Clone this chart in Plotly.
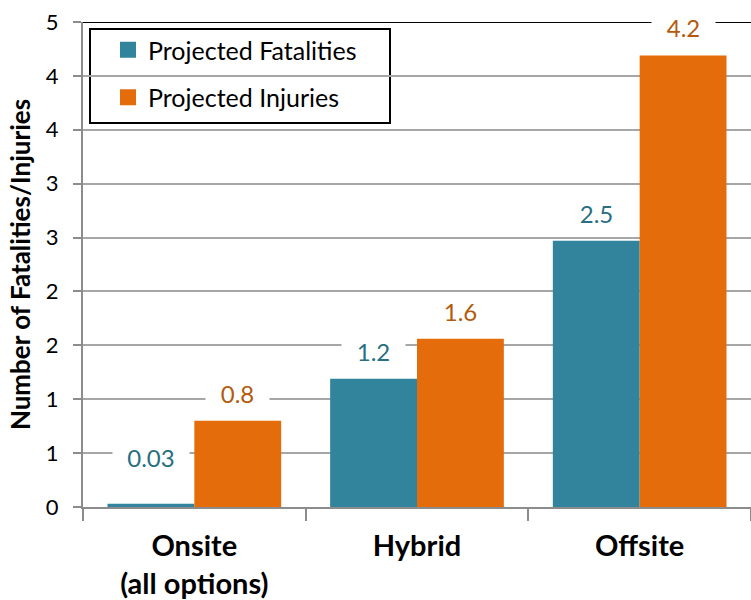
import plotly.graph_objects as go

categories = ["Onsite<br>(all options)", "Hybrid", "Offsite"]
fatalities = [0.03, 1.19, 2.47]
injuries = [0.80, 1.56, 4.19]
fatality_labels = ["0.03", "1.2", "2.5"]
injury_labels = ["0.8", "1.6", "4.2"]
ytick_vals = [0, 0.5, 1, 1.5, 2, 2.5, 3, 3.5, 4, 4.5]
ytick_text = ["0", "1", "1", "2", "2", "3", "3", "4", "4", "5"]

TEAL = "#31849B"
ORANGE = "#E46C0A"
TEAL_TXT = "#276F81"
ORANGE_TXT = "#B35A0E"
FONT = "Lato, Open Sans, sans-serif"

fig = go.Figure()
fig.add_trace(go.Bar(x=categories, y=fatalities, name="Projected Fatalities",
                     marker=dict(color=TEAL, line=dict(width=0)), showlegend=False))
fig.add_trace(go.Bar(x=categories, y=injuries, name="Projected Injuries",
                     marker=dict(color=ORANGE, line=dict(width=0)), showlegend=False))
# legend entries (square swatches)
fig.add_trace(go.Scatter(x=[None], y=[None], mode="markers", name="Projected Fatalities",
                         marker=dict(symbol="square", size=16, color=TEAL), legendgroup="a"))
fig.add_trace(go.Scatter(x=[None], y=[None], mode="markers", name="Projected Injuries",
                         marker=dict(symbol="square", size=16, color=ORANGE), legendgroup="b"))

ann = []
for i, c in enumerate(categories):
    ann.append(dict(x=c, y=fatalities[i], xref="x", yref="y", text=fatality_labels[i],
                    showarrow=False, xshift=-43.5, yshift=30 if fatalities[i] < 0.1 else 11,
                    yanchor="bottom", bgcolor="white", width=len(fatality_labels[i]) * 13 + 22,
                    font=dict(size=24, color=TEAL_TXT, family=FONT)))
    ann.append(dict(x=c, y=injuries[i], xref="x", yref="y", text=injury_labels[i],
                    showarrow=False, xshift=43.5, yshift=11, yanchor="bottom", bgcolor="white",
                    width=len(injury_labels[i]) * 13 + 22,
                    font=dict(size=24, color=ORANGE_TXT, family=FONT)))

L, T, B = 83, 22, 93
W, H = 751, 600
pw, ph = W - L, H - T - B

def px_x(p):
    return (p - L) / pw

def px_y(p):
    return (H - B - p) / ph

fig.update_layout(
    width=W, height=H,
    margin=dict(l=L, r=0, t=T, b=B, autoexpand=False),
    plot_bgcolor="white", paper_bgcolor="white",
    barmode="group", bargap=0.22, bargroupgap=0,
    font=dict(family=FONT, color="black"),
    showlegend=True,
    legend=dict(x=px_x(108), y=px_y(27), xanchor="left", yanchor="top",
                bgcolor="rgba(0,0,0,0)", borderwidth=0,
                font=dict(size=25, family=FONT), traceorder="grouped",
                tracegroupgap=12, itemwidth=30),
    annotations=ann,
    shapes=[
        dict(type="rect", xref="paper", yref="paper",
             x0=px_x(90), x1=px_x(390), y0=px_y(123), y1=px_y(29),
             line=dict(color="black", width=2), fillcolor="white", layer="below"),
        dict(type="line", xref="paper", yref="y", x0=0, x1=1, y0=4.5, y1=4.5,
             line=dict(color="black", width=2), layer="below"),
    ],
    xaxis=dict(
        showline=True, linecolor="#8C8C8C", linewidth=2,
        ticks="outside", tickson="boundaries", ticklen=12, tickcolor="#8C8C8C", tickwidth=2,
        tickfont=dict(size=29, family=FONT, color="black", weight="bold"),
        ticklabelstandoff=12,
        showgrid=False,
    ),
    yaxis=dict(
        range=[0, 4.5], tickvals=ytick_vals, ticktext=ytick_text,
        showline=True, linecolor="#8C8C8C", linewidth=2,
        ticks="outside", ticklen=8, tickcolor="#8C8C8C", tickwidth=2,
        showgrid=True, gridcolor="#A6A6A6", gridwidth=2,
        tickfont=dict(size=22, family=FONT, color="black"),
        ticklabelstandoff=10,
        title=dict(text="Number of Fatalities/Injuries", standoff=8,
                   font=dict(size=26, family=FONT, color="black", weight="bold")),
        zeroline=False,
    ),
)

fig.write_html("out.html", config={"displayModeBar": False},
               post_script="document.body.style.margin='0';")
